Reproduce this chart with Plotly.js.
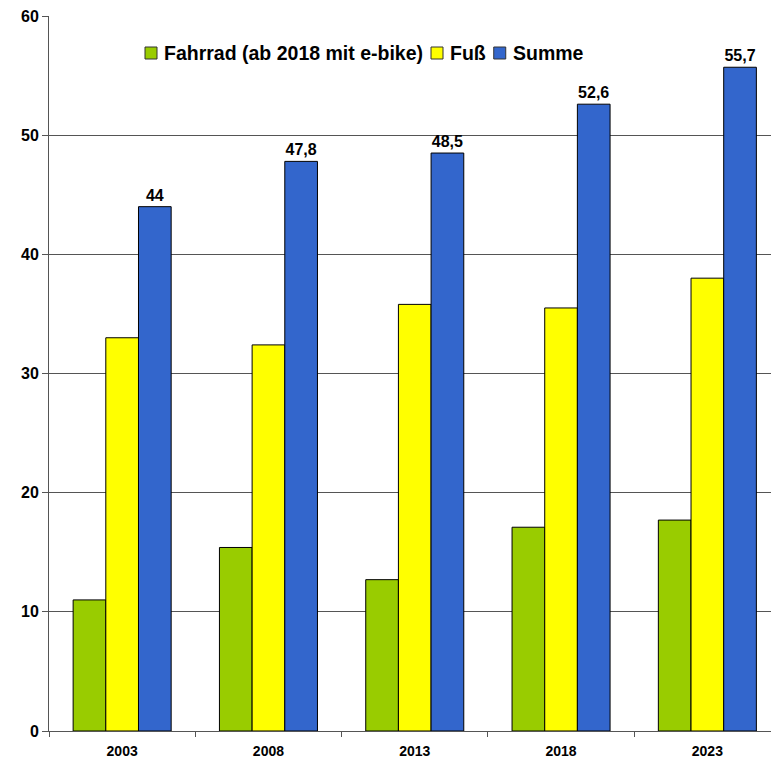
<!DOCTYPE html>
<html>
<head>
<meta charset="utf-8">
<script src="https://cdn.plot.ly/plotly-3.0.1.min.js"></script>
<style>html,body{margin:0;padding:0;background:#fff;}#chart{width:771px;height:762px;}</style>
</head>
<body>
<div id="chart"></div>
<script>
var years = ['2003', '2008', '2013', '2018', '2023'];
var fahrrad = [11, 15.4, 12.7, 17.1, 17.7];
var fuss = [33, 32.4, 35.8, 35.5, 38];
var summe = [44, 47.8, 48.5, 52.6, 55.7];
var yTicks = [0, 10, 20, 30, 40, 50, 60];
var seriesNames = ['Fahrrad (ab 2018 mit e-bike)', 'Fuß', 'Summe'];
var seriesColors = ['#99CC00', '#FFFF00', '#3366CC'];

var FONT = 'Liberation Sans, Arial, sans-serif';
var outline = {color: '#000000', width: 1};

var traces = [
  {type: 'bar', name: seriesNames[0], x: years, y: fahrrad,
   marker: {color: seriesColors[0], line: outline}, hoverinfo: 'y'},
  {type: 'bar', name: seriesNames[1], x: years, y: fuss,
   marker: {color: seriesColors[1], line: outline}, hoverinfo: 'y'},
  {type: 'bar', name: seriesNames[2], x: years, y: summe,
   marker: {color: seriesColors[2], line: outline},
   text: summe.map(function(v){ return String(v).replace('.', ','); }),
   textposition: 'outside', cliponaxis: false,
   textfont: {family: FONT, size: 16, color: '#000000', weight: 'bold'},
   hoverinfo: 'y'}
];

// Plot area geometry (pixels)
var W = 771, H = 762, ML = 49, MR = 0, MT = 16, MB = 31;
var PW = W - ML - MR, PH = H - MT - MB;
function px2x(px) { return (px - ML) / PW; }
function py2y(py) { return (H - MB - py) / PH; }

// Custom compact legend, laid out by measuring text
var legendFontSize = 19.5;
var ctx = document.createElement('canvas').getContext('2d');
ctx.font = 'bold ' + legendFontSize + 'px "Liberation Sans", Arial, sans-serif';
var shapes = [], annotations = [];
var cursor = 145, sq = 12, cy = 53;
for (var i = 0; i < seriesNames.length; i++) {
  shapes.push({type: 'rect', xref: 'paper', yref: 'paper',
    x0: px2x(cursor), x1: px2x(cursor + sq), y0: py2y(cy + sq / 2), y1: py2y(cy - sq / 2),
    fillcolor: seriesColors[i], line: {color: '#333333', width: 1}, layer: 'above'});
  var tx = cursor + sq + 6;
  annotations.push({xref: 'paper', yref: 'paper', x: px2x(tx), y: py2y(cy),
    xanchor: 'left', yanchor: 'middle', showarrow: false, borderpad: 0,
    text: seriesNames[i],
    font: {family: FONT, size: legendFontSize, weight: 'bold', color: '#000000'}});
  cursor = tx + ctx.measureText(seriesNames[i]).width + 9;
}

var layout = {
  width: W, height: H,
  margin: {l: ML, r: MR, t: MT, b: MB, pad: 0},
  paper_bgcolor: '#ffffff', plot_bgcolor: '#ffffff',
  font: {family: FONT, color: '#000000'},
  barmode: 'group', bargap: 0.33, bargroupgap: 0,
  showlegend: false,
  shapes: shapes, annotations: annotations,
  xaxis: {type: 'category', range: [-0.5, 4.435], tickson: 'boundaries',
          ticks: 'outside', ticklen: 5, tickcolor: '#555555', tickwidth: 1,
          ticklabelstandoff: 7,
          showline: true, linecolor: '#555555', linewidth: 1, showgrid: false,
          tickfont: {family: FONT, size: 14, weight: 'bold'}, fixedrange: true},
  yaxis: {range: [0, 60], tickvals: yTicks, ticktext: yTicks.map(String),
          ticks: 'outside', ticklen: 6, tickcolor: '#555555',
          showline: true, linecolor: '#555555', linewidth: 1,
          showgrid: true, gridcolor: '#555555', gridwidth: 1, zeroline: false,
          tickfont: {family: FONT, size: 16, weight: 'bold'}, fixedrange: true}
};

Plotly.newPlot('chart', traces, layout, {displayModeBar: false, staticPlot: true});
</script>
</body>
</html>
